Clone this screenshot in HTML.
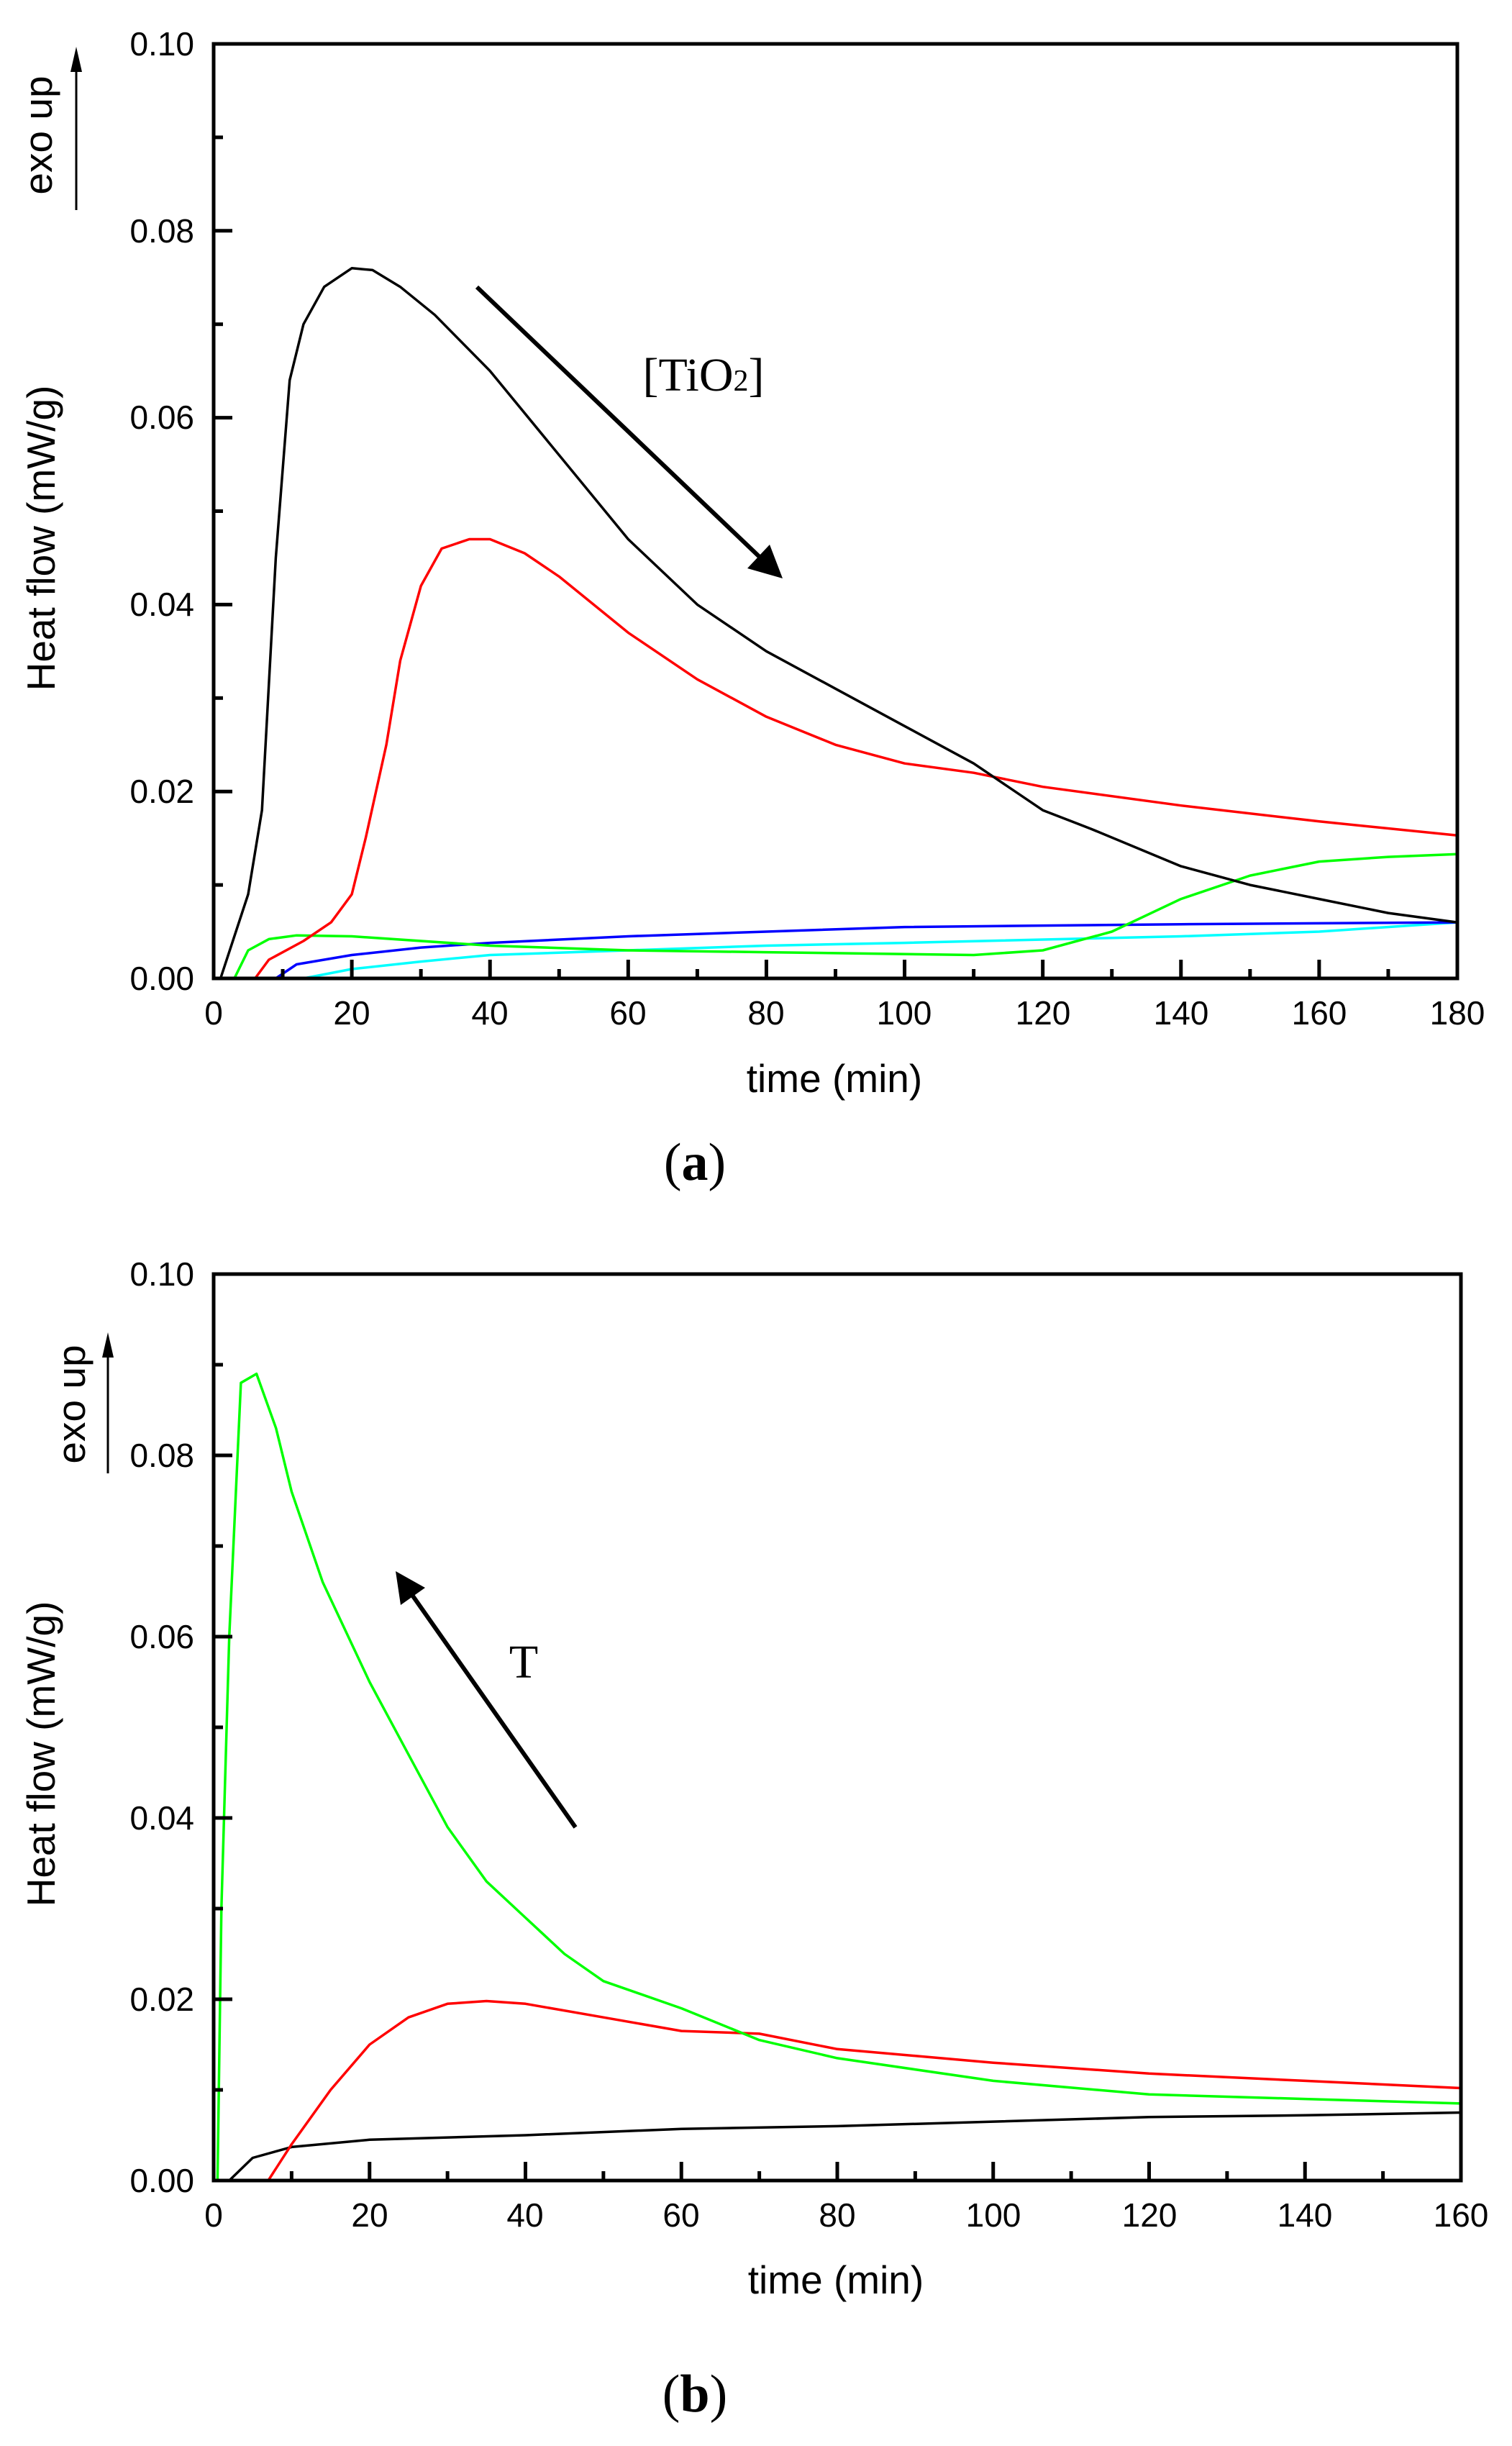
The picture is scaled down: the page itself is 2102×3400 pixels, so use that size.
<!DOCTYPE html>
<html><head><meta charset="utf-8"><style>
html,body{margin:0;padding:0;background:#fff;width:2102px;height:3400px;overflow:hidden}
svg text{font-family:"Liberation Sans",Arial,sans-serif}
</style></head><body>
<svg id="s" width="2102" height="3400" viewBox="0 0 2102 3400" xmlns="http://www.w3.org/2000/svg">
<g id="ga"></g>
<g id="gb"></g>
<g font-size="46" text-anchor="end">
<text x="270" y="77">0.10</text><text x="270" y="337">0.08</text><text x="270" y="596">0.06</text>
<text x="270" y="856">0.04</text><text x="270" y="1116">0.02</text><text x="270" y="1376">0.00</text>
</g>
<g font-size="46" text-anchor="middle">
<text x="297" y="1424">0</text><text x="489" y="1424">20</text><text x="681" y="1424">40</text>
<text x="873" y="1424">60</text><text x="1065" y="1424">80</text><text x="1257" y="1424">100</text>
<text x="1450" y="1424">120</text><text x="1642" y="1424">140</text><text x="1834" y="1424">160</text>
<text x="2026" y="1424">180</text>
</g>
<text x="1160" y="1518" font-size="55" text-anchor="middle">time (min)</text>
<text transform="translate(76,748) rotate(-90)" font-size="55" text-anchor="middle">Heat flow (mW/g)</text>
<text transform="translate(72,188) rotate(-90)" font-size="55" text-anchor="middle">exo up</text>
<line x1="106" y1="292" x2="106" y2="75" stroke="#000" stroke-width="3"/>
<path d="M98,100 L106,65 L114,100 z" fill="#000"/>
<text x="978" y="543" font-size="66" text-anchor="middle" style="font-family:'Liberation Serif',serif">[TiO<tspan font-size="42">2</tspan>]</text>
<line x1="663" y1="399" x2="1060" y2="778" stroke="#000" stroke-width="6"/>
<path d="M1088,804 L1039,790 L1070,757 z" fill="#000"/>
<text x="966" y="1640" font-size="74" text-anchor="middle" style="font-family:'Liberation Serif',serif">(<tspan font-weight="bold">a</tspan>)</text>
<g font-size="46" text-anchor="end">
<text x="270" y="1787">0.10</text><text x="270" y="2039">0.08</text><text x="270" y="2291">0.06</text>
<text x="270" y="2543">0.04</text><text x="270" y="2795">0.02</text><text x="270" y="3047">0.00</text>
</g>
<g font-size="46" text-anchor="middle">
<text x="297" y="3095">0</text><text x="514" y="3095">20</text><text x="730" y="3095">40</text>
<text x="947" y="3095">60</text><text x="1164" y="3095">80</text><text x="1381" y="3095">100</text>
<text x="1598" y="3095">120</text><text x="1814" y="3095">140</text><text x="2031" y="3095">160</text>
</g>
<text x="1162" y="3188" font-size="55" text-anchor="middle">time (min)</text>
<text transform="translate(76,2438) rotate(-90)" font-size="55" text-anchor="middle">Heat flow (mW/g)</text>
<text transform="translate(118,1952) rotate(-90)" font-size="55" text-anchor="middle">exo up</text>
<line x1="150" y1="2048" x2="150" y2="1865" stroke="#000" stroke-width="3"/>
<path d="M142,1887 L150,1852 L158,1887 z" fill="#000"/>
<text x="728" y="2332" font-size="66" text-anchor="middle" style="font-family:'Liberation Serif',serif">T</text>
<line x1="800" y1="2540" x2="568" y2="2210" stroke="#000" stroke-width="6"/>
<path d="M550,2184 L591,2207 L557,2231 z" fill="#000"/>
<text x="966" y="3352" font-size="74" text-anchor="middle" style="font-family:'Liberation Serif',serif">(<tspan font-weight="bold">b</tspan>)</text>
</svg>
<script>
function mk(g,L,T,R,B,xmax,ymax,xmaj,xmin,ymaj,ymin,series){
  function X(v){return L+(R-L)*v/xmax} function Y(v){return B-(B-T)*v/ymax}
  var h="";
  series.forEach(function(s){
    var d=s.p.map(function(p,i){return (i?"L":"M")+X(p[0]).toFixed(1)+","+Y(p[1]).toFixed(1)}).join("");
    h+='<path d="'+d+'" fill="none" stroke="'+s.c+'" stroke-width="'+(s.w||3.5)+'" stroke-linejoin="round"/>';
  });
  for(var v=0;v<=xmax+1e-9;v+=xmin){var maj=Math.abs(v/xmaj-Math.round(v/xmaj))<1e-6;var x=X(v);
    h+='<line x1="'+x+'" y1="'+B+'" x2="'+x+'" y2="'+(B-(maj?26:13))+'" stroke="#000" stroke-width="5"/>';}
  for(var v=0;v<=ymax+1e-9;v+=ymin){var maj=Math.abs(v/ymaj-Math.round(v/ymaj))<1e-6;var y=Y(v);
    h+='<line x1="'+L+'" y1="'+y+'" x2="'+(L+(maj?26:13))+'" y2="'+y+'" stroke="#000" stroke-width="5"/>';}
  h+='<rect x="'+L+'" y="'+T+'" width="'+(R-L)+'" height="'+(B-T)+'" fill="none" stroke="#000" stroke-width="5"/>';
  document.getElementById(g).innerHTML=h;
}
mk("ga",297,61,2026,1360,180,0.1,20,10,0.02,0.01,[
 {c:"#00ffff",p:[[13,0],[20,0.001],[30,0.0018],[40,0.0025],[60,0.003],[80,0.0035],[100,0.0038],[140,0.0045],[160,0.005],[180,0.006]]},
 {c:"#0000ff",p:[[9,0],[12,0.0015],[20,0.0025],[30,0.0033],[40,0.0038],[60,0.0045],[80,0.005],[100,0.0055],[140,0.0058],[180,0.006]]},
 {c:"#00ff00",p:[[3,0],[5,0.003],[8,0.0042],[12,0.0046],[20,0.0045],[40,0.0035],[60,0.003],[80,0.0028],[110,0.0025],[120,0.003],[130,0.005],[140,0.0085],[150,0.011],[160,0.0125],[170,0.013],[180,0.0133]]},
 {c:"#ff0000",p:[[6,0],[8,0.002],[13,0.004],[17,0.006],[20,0.009],[22,0.015],[25,0.025],[27,0.034],[30,0.042],[33,0.046],[37,0.047],[40,0.047],[45,0.0455],[50,0.043],[60,0.037],[70,0.032],[80,0.028],[90,0.025],[100,0.023],[110,0.022],[120,0.0205],[140,0.0185],[160,0.0168],[180,0.0153]]},
 {c:"#000000",p:[[1,0],[5,0.009],[7,0.018],[9,0.045],[11,0.064],[13,0.070],[16,0.074],[20,0.076],[23,0.0758],[27,0.074],[32,0.071],[40,0.065],[50,0.056],[60,0.047],[70,0.040],[80,0.035],[90,0.031],[100,0.027],[110,0.023],[120,0.018],[127,0.016],[140,0.012],[150,0.010],[160,0.0085],[170,0.007],[180,0.006]]}
]);
mk("gb",297,1771,2031,3031,160,0.1,20,10,0.02,0.01,[
 {c:"#000000",p:[[2,0],[5,0.0025],[10,0.0037],[20,0.0045],[40,0.005],[60,0.0057],[80,0.006],[100,0.0065],[120,0.007],[140,0.0072],[160,0.0075]]},
 {c:"#ff0000",p:[[7,0],[10,0.004],[15,0.010],[20,0.015],[25,0.018],[30,0.0195],[35,0.0198],[40,0.0195],[50,0.018],[60,0.0165],[70,0.0162],[80,0.0145],[100,0.013],[120,0.0118],[140,0.011],[160,0.0102]]},
 {c:"#00ff00",p:[[0.5,0],[1,0.03],[2,0.06],[3.5,0.088],[5.5,0.089],[8,0.083],[10,0.076],[14,0.066],[20,0.055],[25,0.047],[30,0.039],[35,0.033],[40,0.029],[45,0.025],[50,0.022],[60,0.019],[70,0.0155],[80,0.0135],[100,0.011],[120,0.0095],[140,0.009],[160,0.0085]]}
]);
</script>
</body></html>
